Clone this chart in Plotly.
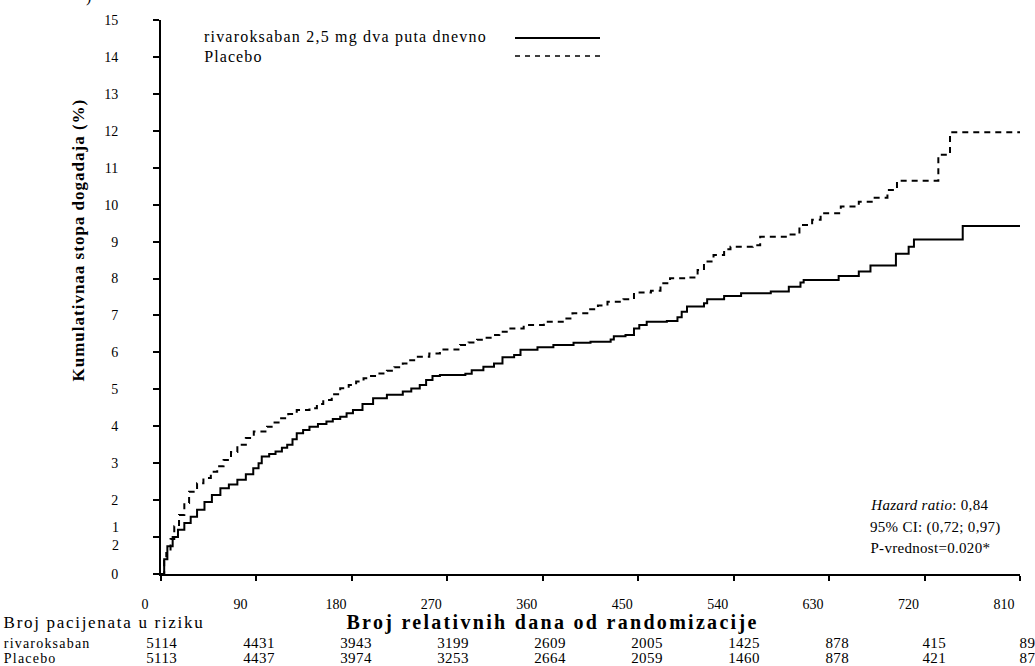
import json
import re
import plotly.graph_objects as go

# ---- data ----
riva_days = [0, 3, 6, 11, 16, 22, 28, 34, 41, 48, 56, 64, 72, 80, 87, 92, 95, 102, 108, 114, 119, 124, 128,
             134, 140, 148, 156, 162, 169, 175, 181, 190, 200, 213, 228, 236, 244, 250, 256, 263, 287, 293,
             304, 314, 322, 333, 339, 355, 370, 389, 405, 424, 427, 438, 446, 451, 458, 477, 487, 491, 496,
             512, 515, 531, 547, 575, 592, 603, 606, 639, 658, 669, 693, 705, 710, 756, 811]
riva_vals = [0, 0.4, 0.75, 1.0, 1.2, 1.38, 1.55, 1.74, 1.95, 2.14, 2.32, 2.42, 2.55, 2.7, 2.86, 3.0, 3.18, 3.25,
             3.32, 3.42, 3.5, 3.65, 3.81, 3.9, 3.99, 4.06, 4.13, 4.2, 4.26, 4.35, 4.44, 4.6, 4.76, 4.85, 4.94,
             5.02, 5.12, 5.25, 5.36, 5.39, 5.42, 5.52, 5.61, 5.70, 5.87, 5.93, 6.07, 6.14, 6.2, 6.26, 6.29, 6.35,
             6.44, 6.47, 6.65, 6.74, 6.83, 6.85, 6.95, 7.1, 7.24, 7.33, 7.44, 7.53, 7.6, 7.65, 7.78, 7.89, 7.96,
             8.07, 8.19, 8.35, 8.67, 8.86, 9.06, 9.42, 9.42]

plac_days = [0, 3, 5, 9, 12.5, 17, 22, 26.5, 34, 40, 47, 53, 59, 66, 72, 80, 87.5, 100, 106, 112, 120, 128, 140,
             147, 153, 161, 169, 177, 184, 191, 197, 205, 213, 220, 228, 235, 241, 253, 263, 282, 290, 298, 305,
             312, 319, 326, 342, 361, 380, 388, 402, 412, 421, 436, 446, 462, 471, 480, 495, 506, 512, 521, 531,
             537, 558, 565, 592, 602, 614, 622, 641, 658, 672, 685, 694, 733, 744, 811]
plac_vals = [0, 0.35, 0.57, 0.95, 1.29, 1.6, 1.92, 2.23, 2.46, 2.6, 2.77, 2.92, 3.09, 3.3, 3.5, 3.68, 3.86, 3.99,
             4.1, 4.22, 4.33, 4.44, 4.49, 4.6, 4.71, 4.87, 5.03, 5.12, 5.21, 5.3, 5.36, 5.43, 5.5, 5.6, 5.7, 5.79,
             5.88, 5.97, 6.08, 6.2, 6.27, 6.34, 6.4, 6.47, 6.56, 6.65, 6.74, 6.83, 6.92, 7.06, 7.17, 7.27, 7.37,
             7.44, 7.62, 7.67, 7.87, 8.01, 8.03, 8.23, 8.46, 8.64, 8.79, 8.86, 8.9, 9.13, 9.19, 9.45, 9.59, 9.77,
             9.95, 10.08, 10.19, 10.4, 10.65, 11.35, 11.96, 11.96]

x_ticks = [0, 90, 180, 270, 360, 450, 540, 630, 720, 810]
y_ticks = list(range(0, 16))
y_ticktext = ["0", ""] + [str(v) for v in range(2, 16)]
extra_ylabels = [("1", 1.25), ("2", 0.78)]

risk_riva = [5114, 4431, 3943, 3199, 2609, 2005, 1425, 878, 415, 89]
risk_plac = [5113, 4437, 3974, 3253, 2664, 2059, 1460, 878, 421, 87]

series_names = ["rivaroksaban 2,5 mg dva puta dnevno", "Placebo"]
stats_lines = ["<i>Hazard ratio</i>: 0,84", "95% CI: (0,72; 0,97)", "P-vrednost=0.020*"]

FONT = "Liberation Serif"
L, R, T, B = 161, 15, 20, 92
W, H = 1035, 666
PW, PH = W - L - R, H - T - B


def px_x(px):
    return (px - L) / PW


def px_y(py):
    return (H - B - py) / PH


fig = go.Figure()
fig.add_trace(go.Scatter(x=riva_days, y=riva_vals, mode="lines", line_shape="hv",
                         line=dict(color="black", width=2), name=series_names[0], showlegend=False))
fig.add_trace(go.Scatter(x=plac_days, y=plac_vals, mode="lines", line_shape="hv",
                         line=dict(color="black", width=2, dash="6px,5px"), name=series_names[1],
                         showlegend=False))

fig.update_layout(
    template="none",
    width=W, height=H,
    margin=dict(l=L, r=R, t=T, b=B, pad=0),
    paper_bgcolor="white", plot_bgcolor="white",
    font=dict(family=FONT, color="black", size=13),
    xaxis=dict(range=[0, 810], tickvals=x_ticks, ticktext=[str(t) for t in x_ticks], automargin=False,
               showgrid=False, zeroline=False, showline=True, linecolor="black", linewidth=2,
               ticks="outside", ticklen=5, tickwidth=2, tickcolor="black",
               tickfont=dict(family=FONT, size=14), ticklabelshift=-16, ticklabelstandoff=11),
    yaxis=dict(range=[0, 15], tickvals=y_ticks, ticktext=y_ticktext, automargin=False,
               showgrid=False, zeroline=False, showline=True, linecolor="black", linewidth=2,
               ticks="outside", ticklen=6, tickwidth=2, tickcolor="black",
               tickfont=dict(family=FONT, size=14), ticklabelstandoff=32),
)

ann = []
spacing = []


def add(text, xpx, y, size, spc=0, yref="paper", xanchor="left", angle=0):
    n = len(re.sub(r"<[^>]+>", "", text))
    if xanchor == "left":
        xpx = xpx + spc * n / 2.0
    elif xanchor == "center" and angle == 0:
        xpx = xpx - spc / 2.0
    ann.append(dict(text=text, x=px_x(xpx), xref="paper", y=y, yref=yref, xanchor=xanchor, yanchor="middle",
                    textangle=angle, showarrow=False, font=dict(family=FONT, size=size)))
    spacing.append(spc)


for txt, yv in extra_ylabels:
    add(txt, 121, yv, 14, 0, yref="y", xanchor="right")
add("<b>Kumulativnaa stopa dogadaja (%)</b>", 78, px_y(240), 17, 1.0, xanchor="center", angle=-90)
add("<b>Broj relativnih dana od randomizacije</b>", 554, px_y(622), 20, 2.3, xanchor="center")
add("Broj pacijenata u riziku", 2, px_y(622), 17, 1.7)
add("rivaroksaban", 2, px_y(643), 14, 1.2)
add("Placebo", 2, px_y(658), 14, 1.2)
for i, (a, b) in enumerate(zip(risk_riva, risk_plac)):
    xp = 144 + 97.1 * i
    add(str(a), xp, px_y(643), 15, 0.4)
    add(str(b), xp, px_y(658), 15, 0.4)
add(series_names[0], 202, px_y(37), 16, 1.2)
add(series_names[1], 202, px_y(56), 16, 1.1)
for line, py in zip(stats_lines, [505, 527, 548]):
    add(line, 868, px_y(py), 15, 0.3)
add(")", 88, px_y(-3), 16, 0, xanchor="center")
fig.update_layout(annotations=ann)

fig.add_shape(type="line", xref="paper", yref="paper", x0=px_x(515), x1=px_x(600), y0=px_y(38), y1=px_y(38),
              line=dict(color="black", width=2))
fig.add_shape(type="line", xref="paper", yref="paper", x0=px_x(515), x1=px_x(600), y0=px_y(56), y1=px_y(56),
              line=dict(color="black", width=1.5, dash="5px,5px"))

post = """
document.documentElement.style.margin = '0';
document.documentElement.style.padding = '0';
document.body.style.margin = '0';
document.body.style.padding = '0';
document.body.style.overflow = 'hidden';
var SP = %s;
document.querySelectorAll('g.annotation').forEach(function(g){
  var i = parseInt(g.getAttribute('data-index'));
  var t = g.querySelector('text.annotation-text');
  if (t && SP[i]) { t.style.letterSpacing = SP[i] + 'px'; }
});
""" % json.dumps(spacing)
fig.write_html("out.html", post_script=post, config={"displayModeBar": False})
